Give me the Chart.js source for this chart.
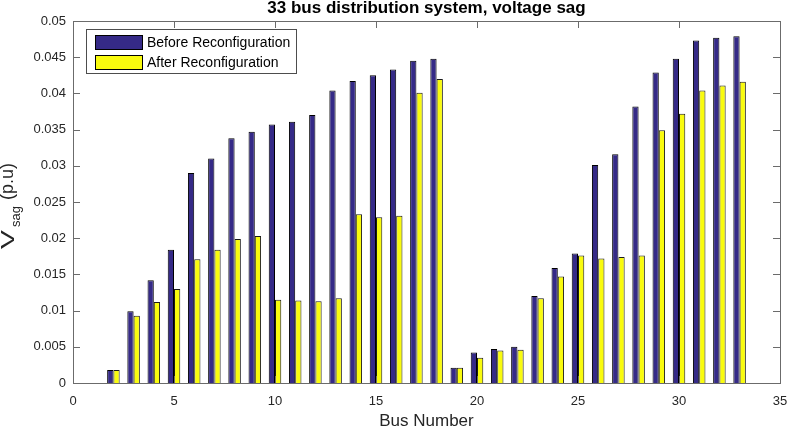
<!DOCTYPE html>
<html>
<head>
<meta charset="utf-8">
<script src="https://cdn.jsdelivr.net/npm/chart.js@4.4.0/dist/chart.umd.min.js"></script>
<style>
  html, body { margin: 0; padding: 0; background: #fff; }
  #wrap { width: 787px; height: 428px; }
</style>
</head>
<body>
<div id="wrap"><canvas id="chart"></canvas></div>
<script>
'use strict';

// bus index 1..33
const BUS_NUMBERS = [1, 2, 3, 4, 5, 6, 7, 8, 9, 10, 11, 12, 13, 14, 15, 16, 17,
  18, 19, 20, 21, 22, 23, 24, 25, 26, 27, 28, 29, 30, 31, 32, 33];

// voltage sag (p.u)
const BEFORE_RECONF = [0, 0.0018, 0.0099, 0.0142, 0.0184, 0.0290, 0.0310, 0.0338,
  0.0347, 0.0357, 0.0361, 0.0370, 0.0404, 0.0417, 0.0425, 0.0433, 0.0445, 0.0448,
  0.0021, 0.0042, 0.0047, 0.0050, 0.0120, 0.0159, 0.0179, 0.0301, 0.0316, 0.0382,
  0.0429, 0.0448, 0.0473, 0.0477, 0.0479];

const AFTER_RECONF = [0, 0.0018, 0.0093, 0.0112, 0.0130, 0.0171, 0.0184, 0.0199,
  0.0203, 0.0115, 0.0114, 0.0113, 0.0117, 0.0233, 0.0229, 0.0231, 0.0401, 0.0420,
  0.0021, 0.0035, 0.0045, 0.0046, 0.0117, 0.0147, 0.0176, 0.0172, 0.0174, 0.0176,
  0.0349, 0.0372, 0.0404, 0.0411, 0.0416];

const SERIES_LABELS = ['Before Reconfiguration', 'After Reconfiguration'];
const X_TICKS = [0, 5, 10, 15, 20, 25, 30, 35];
const Y_TICKS = [0, 0.005, 0.01, 0.015, 0.02, 0.025, 0.03, 0.035, 0.04, 0.045, 0.05];

const BLUE = 'rgb(53, 42, 135)';
const YELLOW = 'rgb(249, 251, 14)';
const AXIS = '#6b6b6b';
const TEXT = '#262626';
const FONT = '"Liberation Sans", Arial, Helvetica, sans-serif';

function toPoints(values) {
  return BUS_NUMBERS.map((bus, i) => ({ x: bus, y: values[i] }));
}

/**
 * Draws the matlab-ish decorations: box, inward ticks,
 * title, y label with subscript and the framed legend.
 */
const matlabAxes = {
  id: 'matlabAxes',
  afterDatasetsDraw(chart) {
    const ctx = chart.ctx;
    const area = chart.chartArea;
    const xs = chart.scales.x;
    const ys = chart.scales.y;
    const tick = 7;

    ctx.save();
    ctx.strokeStyle = AXIS;
    ctx.lineWidth = 1;
    ctx.strokeRect(Math.round(area.left) + 0.5, Math.round(area.top) + 0.5,
      Math.round(area.right - area.left), Math.round(area.bottom - area.top));

    ctx.beginPath();
    for (const v of X_TICKS) {
      const px = Math.round(xs.getPixelForValue(v)) + 0.5;
      ctx.moveTo(px, area.bottom);
      ctx.lineTo(px, area.bottom - tick);
      ctx.moveTo(px, area.top);
      ctx.lineTo(px, area.top + tick);
    }
    for (const v of Y_TICKS) {
      const py = Math.round(ys.getPixelForValue(v)) + 0.5;
      ctx.moveTo(area.left, py);
      ctx.lineTo(area.left + tick, py);
      ctx.moveTo(area.right, py);
      ctx.lineTo(area.right - tick, py);
    }
    ctx.stroke();

    // title
    ctx.fillStyle = '#000';
    ctx.font = 'bold 17px ' + FONT;
    ctx.textAlign = 'center';
    ctx.textBaseline = 'middle';
    ctx.fillText('33 bus distribution system, voltage sag', (area.left + area.right) / 2, 8);

    // y label: V_sag (p.u), drawn bottom-to-top
    const cy = (area.top + area.bottom) / 2;
    ctx.save();
    ctx.translate(0, cy);
    ctx.rotate(-Math.PI / 2);
    ctx.fillStyle = TEXT;
    ctx.textBaseline = 'alphabetic';
    ctx.textAlign = 'left';
    ctx.save();
    ctx.font = '18px ' + FONT;
    const wV = ctx.measureText('V').width;
    ctx.translate(-47, 14);
    ctx.scale(19 / wV, 1);
    ctx.fillText('V', 0, 0);
    ctx.restore();
    ctx.font = '13px ' + FONT;
    ctx.fillText('sag', -25, 20);
    ctx.font = '18px ' + FONT;
    ctx.fillText('(p.u)', 2, 13);
    ctx.restore();

    // legend
    const lx = area.left + 13;
    const ly = area.top + 8;
    ctx.fillStyle = '#fff';
    ctx.fillRect(lx, ly, 210, 44);
    ctx.strokeStyle = '#4d4d4d';
    ctx.strokeRect(lx + 0.5, ly + 0.5, 210, 44);
    const colors = [BLUE, YELLOW];
    ctx.font = '14px ' + FONT;
    ctx.textAlign = 'left';
    ctx.textBaseline = 'middle';
    SERIES_LABELS.forEach((label, i) => {
      const sy = ly + 6 + i * 20;
      ctx.fillStyle = colors[i];
      ctx.fillRect(lx + 9, sy, 47, 14);
      ctx.strokeStyle = '#000';
      ctx.strokeRect(lx + 9.5, sy + 0.5, 47, 14);
      ctx.fillStyle = '#000';
      ctx.fillText(label, lx + 61, sy + 8);
    });
    ctx.restore();
  }
};

new Chart(document.getElementById('chart'), {
  type: 'bar',
  data: {
    datasets: [{
      label: SERIES_LABELS[0],
      data: toPoints(BEFORE_RECONF),
      backgroundColor: BLUE,
      borderColor: '#000',
      borderWidth: 1,
      borderSkipped: 'start'
    }, {
      label: SERIES_LABELS[1],
      data: toPoints(AFTER_RECONF),
      backgroundColor: YELLOW,
      borderColor: '#1a1a1a',
      borderWidth: 1,
      borderSkipped: 'start'
    }]
  },
  options: {
    responsive: true,
    maintainAspectRatio: false,
    animation: false,
    layout: { padding: { top: 21, right: 7, left: 0, bottom: 0 } },
    datasets: { bar: { categoryPercentage: 0.62, barPercentage: 1.0 } },
    plugins: {
      legend: { display: false },
      title: { display: false },
      tooltip: { enabled: false }
    },
    scales: {
      x: {
        type: 'linear',
        min: 0,
        max: 35,
        offset: false,
        grid: { display: false, drawTicks: false, offset: false },
        border: { display: false },
        afterFit: (s) => { s.height = 45; s.paddingLeft = 0; s.paddingRight = 0; },
        afterBuildTicks: (s) => { s.ticks = X_TICKS.map(v => ({ value: v })); },
        ticks: {
          color: TEXT,
          font: { family: FONT, size: 13 },
          padding: 11,
          maxRotation: 0,
          callback: (v) => String(v)
        },
        title: {
          display: true,
          text: 'Bus Number',
          color: TEXT,
          font: { family: FONT, size: 17, lineHeight: 0.8 },
          padding: { top: 0, bottom: 0 }
        }
      },
      y: {
        min: 0,
        max: 0.05,
        grid: { display: false, drawTicks: false },
        border: { display: false },
        afterFit: (s) => { s.width = 73; s.paddingTop = 0; s.paddingBottom = 0; },
        afterBuildTicks: (s) => { s.ticks = Y_TICKS.map(v => ({ value: v })); },
        ticks: {
          color: TEXT,
          font: { family: FONT, size: 13 },
          padding: 7,
          callback: (v) => String(Number(v.toFixed(3)))
        }
      }
    }
  },
  plugins: [matlabAxes]
});
</script>
</body>
</html>
